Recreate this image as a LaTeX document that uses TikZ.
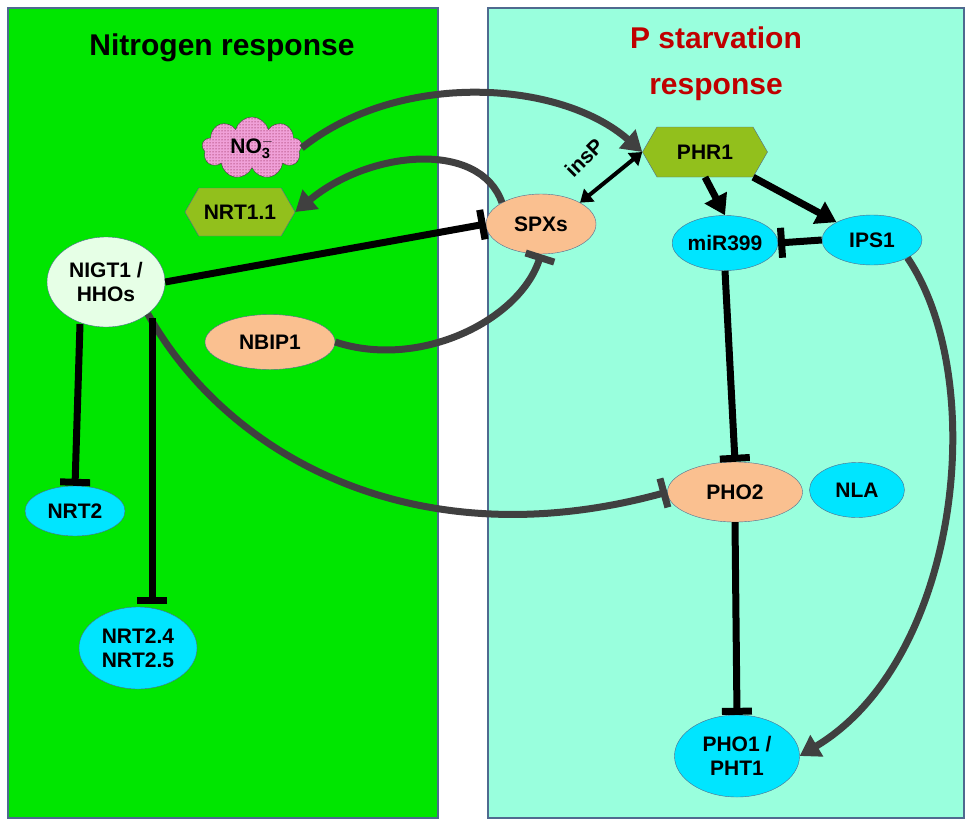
\documentclass[tikz,border=0pt]{standalone}
\usepackage{fontspec}
\setmainfont{Liberation Sans}
\usetikzlibrary{shapes.geometric,shapes.symbols,arrows.meta,patterns}
\definecolor{ngreen}{HTML}{00E600}
\definecolor{paqua}{HTML}{99FFDD}
\definecolor{frame}{HTML}{4F6A8F}
\definecolor{olive}{HTML}{92C01C}
\definecolor{peach}{HTML}{FAC090}
\definecolor{cyanb}{HTML}{00E5FF}
\definecolor{pale}{HTML}{E6FFE6}
\definecolor{pink}{HTML}{F0A0D8}
\definecolor{dgray}{HTML}{404040}
\definecolor{dred}{HTML}{C00000}
\tikzset{
  lbl/.style={font=\fontsize{21}{24}\selectfont\bfseries, align=center},
  oval/.style={lbl, ellipse, draw=frame, thin, inner sep=0pt},
  hexa/.style={lbl, signal, signal to=east and west, draw=frame, fill=olive, inner sep=5pt, signal pointer angle=120},
  arr/.style={-{Triangle[length=20pt,width=24pt]}, line width=7pt},
  inh/.style={-{Bar[width=30pt,line width=7pt]}, line width=7pt},
}
\begin{document}
\begin{tikzpicture}[x=1pt,y=-1pt]
            % Panels
            \useasboundingbox (0,0) rectangle (975,833);
            \draw[frame, fill=ngreen, line width=1.5pt] (8,8) rectangle (438,818);
            \draw[frame, fill=paqua, line width=1.5pt] (488,8) rectangle (964,818);
            \node[font=\fontsize{30}{32}\selectfont\bfseries] (ntitle) at (222,48) {Nitrogen response};
            \node[font=\fontsize{30}{46}\selectfont\bfseries, text=dred, align=center] (ptitle) at (716,64) {P starvation\\response};
            % Nodes
            \node[lbl, cloud, cloud puffs=9, draw=dgray, fill=pink, minimum width=100pt, minimum height=62pt, inner sep=0pt,
                  postaction={pattern=dots, pattern color=purple!60!black}] (no3) at (252,148) {};
            \node[lbl] at (no3) {NO$_{\mathbf 3}^{\mathbf -}$};
            \node[hexa, minimum width=110pt, minimum height=48pt] (nrt11) at (240,212) {NRT1.1};
            \node[hexa, minimum width=125pt, minimum height=50pt] (phr1) at (705,152) {PHR1};
            \node[oval, fill=peach, minimum width=110pt, minimum height=60pt] (spx) at (541,224) {SPXs};
            \node[oval, fill=cyanb, minimum width=105pt, minimum height=55pt] (mir) at (725,243) {miR399};
            \node[oval, fill=cyanb, minimum width=100pt, minimum height=50pt] (ips) at (872,240) {IPS1};
            \node[oval, fill=pale, minimum width=118pt, minimum height=90pt] (nigt) at (106,282) {NIGT1 /\\HHOs};
            \node[oval, fill=peach, minimum width=130pt, minimum height=55pt] (nbip) at (270,342) {NBIP1};
            \node[oval, fill=cyanb, minimum width=100pt, minimum height=50pt] (nrt2) at (75,511) {NRT2};
            \node[oval, fill=cyanb, minimum width=118pt, minimum height=82pt] (nrt245) at (138,648) {NRT2.4\\NRT2.5};
            \node[oval, fill=peach, minimum width=135pt, minimum height=60pt] (pho2) at (735,492) {PHO2};
            \node[oval, fill=cyanb, minimum width=95pt, minimum height=55pt] (nla) at (857,490) {NLA};
            \node[oval, fill=cyanb, minimum width=125pt, minimum height=82pt] (pho1) at (737,756) {PHO1 /\\PHT1};
            % Gray curved links
            \draw[arr, dgray] (no3.east) .. controls (400,70) and (560,80) .. (phr1.west);
            \draw[arr, dgray] (spx.north west) .. controls (480,140) and (370,150) .. (nrt11.east);
            \draw[inh, dgray] (nbip.east) .. controls (420,370) and (520,320) .. (spx.south);
            \draw[inh, dgray] (nigt.south east) .. controls (230,460) and (420,560) .. (pho2.west);
            \draw[arr, dgray] (ips.south east) .. controls (990,380) and (960,660) .. (pho1.east);
            % Black links
            \draw[{Triangle[length=12pt,width=16pt]}-{Triangle[length=12pt,width=16pt]}, line width=4pt] (spx.north east) -- (phr1.west);
            \node[lbl, rotate=45, inner sep=1pt] (insp) at (584,158) {insP};
            \draw[arr] (phr1.south) -- (mir.north);
            \draw[arr] (phr1.south east) -- (ips.north west);
            \draw[inh] (ips.west) -- (mir.east);
            \draw[inh] (nigt.east) -- (spx.west);
            \draw[inh] (80,324) -- (nrt2.north);
            \draw[inh] (152,318) -- (152,604);
            \draw[inh] (mir.south) -- (pho2.north);
            \draw[inh] (pho2.south) -- (pho1.north);
\end{tikzpicture}
\end{document}
